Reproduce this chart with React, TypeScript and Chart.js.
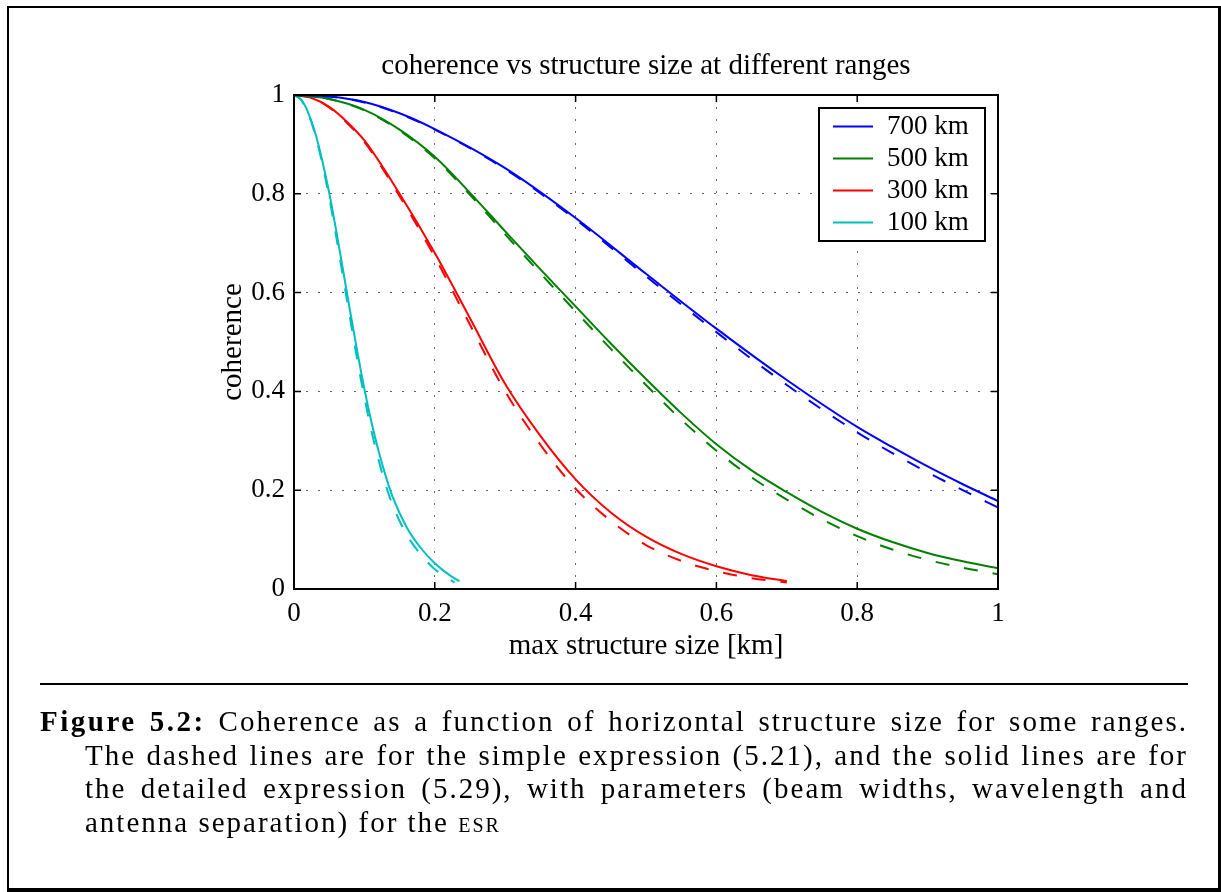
import React, { useEffect, useRef } from 'react';
import { Chart, registerables } from 'chart.js';

Chart.register(...registerables);

const FONT = "'Liberation Serif', 'Times New Roman', serif";

const chartTitle = 'coherence vs structure size at different ranges';
const xAxisTitle = 'max structure size [km]';
const yAxisTitle = 'coherence';
const rangeLabels = ['700 km', '500 km', '300 km', '100 km'];
const rangeColors = ['#0000ff', '#008000', '#ff0000', '#00bfbf'];
const xTickValues = [0, 0.2, 0.4, 0.6, 0.8, 1];
const yTickValues = [0, 0.2, 0.4, 0.6, 0.8, 1];
const tickLabels: Record<string, string> = { '0': '0', '0.2': '0.2', '0.4': '0.4', '0.6': '0.6', '0.8': '0.8', '1': '1' };

// 700 km
const x700 = [0, 0.05, 0.1, 0.15, 0.2, 0.3, 0.4, 0.5, 0.6, 0.7, 0.8, 0.85, 0.9, 0.95, 1.0];
const solid700 = [1, 0.997, 0.986, 0.963, 0.931, 0.852, 0.751, 0.638, 0.527, 0.423, 0.328, 0.287, 0.248, 0.212, 0.178];
const dashed700 = [1, 0.997, 0.985, 0.962, 0.93, 0.85, 0.748, 0.633, 0.52, 0.413, 0.317, 0.275, 0.236, 0.2, 0.165];

// 500 km
const x500 = [0, 0.05, 0.1, 0.15, 0.2, 0.25, 0.3, 0.35, 0.4, 0.45, 0.5, 0.55, 0.6, 0.65, 0.7, 0.75, 0.8, 0.85, 0.9, 0.95, 1.0];
const solid500 = [1, 0.992, 0.97, 0.93, 0.875, 0.802, 0.724, 0.647, 0.572, 0.497, 0.425, 0.356, 0.293, 0.24, 0.196, 0.156, 0.122, 0.095, 0.073, 0.056, 0.042];
const dashed500 = [1, 0.992, 0.969, 0.928, 0.872, 0.798, 0.718, 0.639, 0.562, 0.486, 0.413, 0.343, 0.28, 0.226, 0.181, 0.141, 0.107, 0.08, 0.059, 0.043, 0.03];

// 300 km
const x300 = [0, 0.025, 0.05, 0.075, 0.1, 0.15, 0.2, 0.25, 0.3, 0.35, 0.4, 0.45, 0.5, 0.55, 0.6, 0.65, 0.7];
const solid300 = [1, 0.994, 0.976, 0.946, 0.908, 0.8, 0.68, 0.548, 0.415, 0.31, 0.222, 0.155, 0.106, 0.071, 0.046, 0.028, 0.016];
const dashed300 = [1, 0.994, 0.975, 0.944, 0.905, 0.795, 0.672, 0.535, 0.4, 0.292, 0.203, 0.138, 0.089, 0.057, 0.036, 0.022, 0.013];

// 100 km
const x100Solid = [0, 0.01, 0.02, 0.03, 0.04, 0.05, 0.06, 0.07, 0.08, 0.09, 0.1, 0.11, 0.12, 0.13, 0.14, 0.16, 0.18, 0.2, 0.22, 0.235];
const solid100 = [1, 0.991, 0.965, 0.924, 0.868, 0.802, 0.725, 0.643, 0.56, 0.48, 0.405, 0.338, 0.28, 0.23, 0.187, 0.125, 0.083, 0.052, 0.029, 0.016];
const x100Dashed = [0, 0.01, 0.02, 0.03, 0.04, 0.05, 0.06, 0.07, 0.08, 0.09, 0.1, 0.11, 0.12, 0.13, 0.14, 0.16, 0.18, 0.2, 0.228];
const dashed100 = [1, 0.99, 0.963, 0.92, 0.862, 0.793, 0.713, 0.629, 0.545, 0.463, 0.388, 0.32, 0.262, 0.212, 0.17, 0.11, 0.07, 0.04, 0.013];

const captionLabel = 'Figure 5.2:';
const captionLines = [
  'Coherence as a function of horizontal structure size for some ranges.',
  'The dashed lines are for the simple expression (5.21), and the solid lines are for',
  'the detailed expression (5.29), with parameters (beam widths, wavelength and',
  'antenna separation) for the ',
];
const captionTail = 'esr';

const toPoints = (xs: number[], ys: number[]) => xs.map((x, i) => ({ x, y: ys[i] }));

const axesFramePlugin = {
  id: 'axesFrame',
  afterDatasetsDraw(chart: any) {
    const { ctx, chartArea } = chart;
    const { left, right, top, bottom } = chartArea;
    const xs = chart.scales.x;
    const ys = chart.scales.y;
    const L = 7;
    ctx.save();
    ctx.strokeStyle = '#000';
    ctx.lineWidth = 1.5;
    ctx.setLineDash([]);
    ctx.beginPath();
    xTickValues.forEach((v) => {
      const p = xs.getPixelForValue(v);
      ctx.moveTo(p, bottom);
      ctx.lineTo(p, bottom - L);
      ctx.moveTo(p, top);
      ctx.lineTo(p, top + L);
    });
    yTickValues.forEach((v) => {
      const p = ys.getPixelForValue(v);
      ctx.moveTo(left, p);
      ctx.lineTo(left + L, p);
      ctx.moveTo(right, p);
      ctx.lineTo(right - L, p);
    });
    ctx.stroke();
    ctx.lineWidth = 2;
    ctx.strokeRect(left, top, right - left, bottom - top);
    ctx.restore();
  },
};

const boxLegendPlugin = {
  id: 'boxLegend',
  afterDraw(chart: any) {
    const { ctx, chartArea } = chart;
    const items = chart.data.datasets.filter((d: any) => d.label);
    const w = 166;
    const rowH = 32;
    const padY = 18.5;
    const h = padY * 2 + rowH * (items.length - 1);
    const bx = chartArea.right - 13 - w;
    const by = chartArea.top + 13;
    ctx.save();
    ctx.fillStyle = '#fff';
    ctx.fillRect(bx, by, w, h);
    ctx.strokeStyle = '#000';
    ctx.lineWidth = 2;
    ctx.setLineDash([]);
    ctx.strokeRect(bx, by, w, h);
    ctx.font = `27px ${FONT}`;
    ctx.textBaseline = 'middle';
    ctx.textAlign = 'left';
    items.forEach((d: any, i: number) => {
      const yy = by + padY + i * rowH;
      ctx.strokeStyle = d.borderColor;
      ctx.lineWidth = 2;
      ctx.beginPath();
      ctx.moveTo(bx + 14, yy);
      ctx.lineTo(bx + 54, yy);
      ctx.stroke();
      ctx.fillStyle = '#000';
      ctx.fillText(d.label, bx + 68, yy);
    });
    ctx.restore();
  },
};

export default function App() {
  const canvasRef = useRef<HTMLCanvasElement | null>(null);

  useEffect(() => {
    if (!canvasRef.current) return;
    const solidSets = [
      toPoints(x700, solid700),
      toPoints(x500, solid500),
      toPoints(x300, solid300),
      toPoints(x100Solid, solid100),
    ];
    const dashedSets = [
      toPoints(x700, dashed700),
      toPoints(x500, dashed500),
      toPoints(x300, dashed300),
      toPoints(x100Dashed, dashed100),
    ];
    const datasets: any[] = [];
    rangeLabels.forEach((lab, i) => {
      datasets.push({
        label: '',
        data: dashedSets[i],
        borderColor: rangeColors[i],
        borderWidth: 2,
        borderDash: [14, 15],
        pointRadius: 0,
        fill: false,
        cubicInterpolationMode: 'monotone',
      });
    });
    rangeLabels.forEach((lab, i) => {
      datasets.push({
        label: lab,
        data: solidSets[i],
        borderColor: rangeColors[i],
        borderWidth: 2,
        pointRadius: 0,
        fill: false,
        cubicInterpolationMode: 'monotone',
      });
    });
    const fmt = (v: any) => tickLabels[String(Math.round(Number(v) * 10) / 10)] ?? String(v);
    const chart = new Chart(canvasRef.current, {
      type: 'line',
      data: { datasets },
      plugins: [axesFramePlugin, boxLegendPlugin],
      options: {
        responsive: false,
        animation: false,
        layout: { padding: { left: 0, right: 223, top: 0, bottom: 0 } },
        plugins: {
          legend: { display: false },
          tooltip: { enabled: false },
          title: {
            display: true,
            fullSize: false,
            text: chartTitle,
            color: '#000',
            font: { family: FONT, size: 29, weight: 'normal' },
            padding: { top: 49, bottom: 11.2 },
          },
        },
        scales: {
          x: {
            type: 'linear',
            min: 0,
            max: 1,
            afterBuildTicks: (s: any) => {
              s.ticks = xTickValues.map((v) => ({ value: v }));
            },
            ticks: {
              padding: 8.5,
              color: '#000',
              maxRotation: 0,
              autoSkip: false,
              font: { family: FONT, size: 27 },
              callback: fmt,
            },
            grid: { drawTicks: false, color: 'rgba(0,0,0,0.6)', lineWidth: 1 },
            border: { display: false, dash: [2, 10] },
            title: {
              display: true,
              text: xAxisTitle,
              color: '#000',
              font: { family: FONT, size: 29 },
              padding: { top: 0, bottom: 16.5 },
            },
            afterFit: (s: any) => {
              s.height = 91;
            },
          },
          y: {
            type: 'linear',
            min: 0,
            max: 1,
            afterBuildTicks: (s: any) => {
              s.ticks = yTickValues.map((v) => ({ value: v }));
            },
            ticks: {
              padding: 9,
              color: '#000',
              autoSkip: false,
              font: { family: FONT, size: 27 },
              callback: fmt,
            },
            grid: { drawTicks: false, color: 'rgba(0,0,0,0.6)', lineWidth: 1 },
            border: { display: false, dash: [2, 10] },
            title: {
              display: true,
              text: yAxisTitle,
              color: '#000',
              font: { family: FONT, size: 29 },
              padding: { top: 215.6, bottom: 0 },
            },
            afterFit: (s: any) => {
              s.width = 294;
            },
          },
        },
      } as any,
    });
    return () => chart.destroy();
  }, []);

  const lineStyle: React.CSSProperties = {
    position: 'absolute',
    whiteSpace: 'nowrap',
    textAlign: 'justify',
    textAlignLast: 'justify' as any,
    fontFamily: FONT,
    fontSize: 29,
    lineHeight: '33.5px',
    letterSpacing: '2px',
    color: '#000',
  };

  return (
    <div>
      <canvas
        ref={canvasRef}
        width={1221}
        height={680}
        style={{ position: 'absolute', left: 0, top: 0, width: 1221, height: 680 }}
      />
      <div
        style={{
          position: 'absolute',
          left: 7,
          top: 6,
          width: 1214,
          height: 886,
          boxSizing: 'border-box',
          borderLeft: '2px solid #000',
          borderTop: '2px solid #000',
          borderRight: '3px solid #000',
          borderBottom: '4px solid #000',
          pointerEvents: 'none',
        }}
      />
      <div style={{ position: 'absolute', left: 40, top: 683, width: 1148, height: 2, background: '#000' }} />
      <div style={{ ...lineStyle, left: 40, top: 705, width: 1148 }}>
        <b style={{ letterSpacing: '2.5px' }}>{captionLabel}</b> {captionLines[0]}
      </div>
      <div style={{ ...lineStyle, left: 85, top: 738.5, width: 1103 }}>{captionLines[1]}</div>
      <div style={{ ...lineStyle, left: 85, top: 772, width: 1103 }}>{captionLines[2]}</div>
      <div style={{ ...lineStyle, left: 85, top: 805.5, width: 1103, textAlign: 'left', textAlignLast: 'left' as any }}>
        {captionLines[3]}
        <span style={{ fontVariant: 'small-caps' }}>{captionTail}</span>
      </div>
    </div>
  );
}
